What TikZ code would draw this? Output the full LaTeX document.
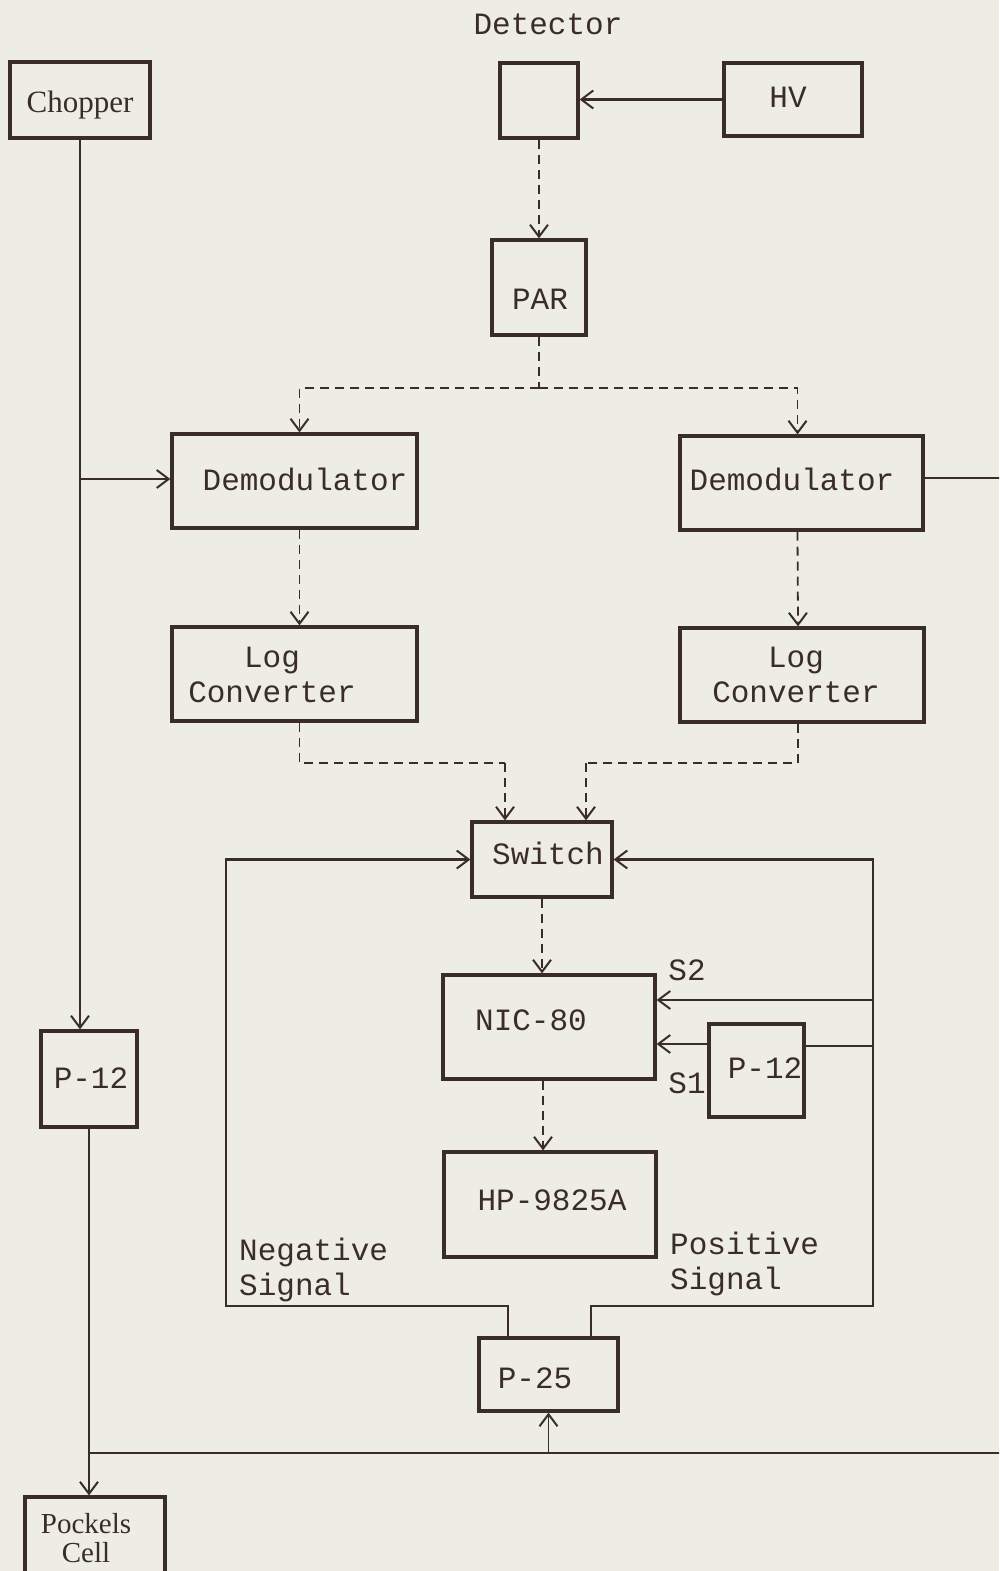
\documentclass[tikz,border=0pt]{standalone}
\usepackage{fontspec}
\newfontfamily\tw{Liberation Mono}
\newfontfamily\sr{Liberation Serif}
\usetikzlibrary{arrows.meta,calc}
\definecolor{ink}{HTML}{3B2C2C}
\definecolor{paper}{HTML}{EDEDE3}
\begin{document}
\begin{tikzpicture}[x=1pt,y=-1pt,
  box/.style={draw=ink,line width=3.2pt,inner sep=0pt},
  txt/.style={text=ink,inner sep=0pt,font=\tw\fontsize{31}{35}\selectfont},
  stxt/.style={text=ink,inner sep=0pt,font=\sr\fontsize{31}{26}\selectfont},
  sig/.style={draw=ink,line width=2.8pt},
  thin/.style={draw=ink,line width=1.9pt},
  dsh/.style={draw=ink,line width=1.8pt,dash pattern=on 9pt off 6pt},
  arr/.style={-{Straight Barb[length=12pt,width=18pt,line width=2pt]}}]
\fill[paper] (0,0) rectangle (999,1571);
\useasboundingbox (0,0) rectangle (999,1571);
\clip (0,0) rectangle (999,1571);
% boxes
\node[box,minimum width=140pt,minimum height=76pt] (chop) at (80,100) {};
\node[box,minimum width=78pt,minimum height=75pt] (det) at (539,100.5) {};
\node[box,minimum width=138pt,minimum height=73pt] (hv) at (793,99.5) {};
\node[box,minimum width=94pt,minimum height=95pt] (par) at (539,287.5) {};
\node[box,minimum width=245pt,minimum height=94pt] (demL) at (294.5,481) {};
\node[box,minimum width=243pt,minimum height=94pt] (demR) at (801.5,483) {};
\node[box,minimum width=245pt,minimum height=94pt] (logL) at (294.5,674) {};
\node[box,minimum width=244pt,minimum height=94pt] (logR) at (802,675) {};
\node[box,minimum width=140pt,minimum height=75pt] (sw) at (542,859.5) {};
\node[box,minimum width=212pt,minimum height=104pt] (nic) at (549,1027) {};
\node[box,minimum width=95pt,minimum height=93pt] (p12r) at (756.5,1070.5) {};
\node[box,minimum width=212pt,minimum height=105pt] (hp) at (550,1204.5) {};
\node[box,minimum width=139pt,minimum height=73pt] (p25) at (548.5,1374.5) {};
\node[box,minimum width=96pt,minimum height=96pt] (p12l) at (89,1079) {};
\node[box,minimum width=140pt,minimum height=90pt] (pock) at (95,1542) {};
% texts
\node[txt] (dett) at (548,24) {Detector};
\node[stxt] (chopt) at (80,105) {Chopper};
\node[txt] (hvt) at (788,97) {HV};
\node[txt] (part) at (540,299) {PAR};
\node[txt] (demLt) at (305,479) {Demodulator};
\node[txt] (demRt) at (792,479) {Demodulator};
\node[txt,align=center] (logLt) at (272,675) {Log\\Converter};
\node[txt,align=center] (logRt) at (796,675) {Log\\Converter};
\node[txt] (swt) at (548,853) {Switch};
\node[txt] (nict) at (531,1020) {NIC-80};
\node[txt] (s2t) at (687,970) {S2};
\node[txt] (s1t) at (687,1083) {S1};
\node[txt] (p12rt) at (765,1068) {P-12};
\node[txt] (hpt) at (552,1200) {HP-9825A};
\node[txt,align=left,anchor=west] (negt) at (239,1270) {Negative\\Signal};
\node[txt,align=left,anchor=west] (post) at (670,1264) {Positive\\Signal};
\node[txt] (p25t) at (535,1378) {P-25};
\node[txt] (p12lt) at (91,1078) {P-12};
\node[stxt,align=center,font=\sr\fontsize{29}{29}\selectfont] (pockt) at (86,1538) {Pockels\\Cell};
% coordinates
\coordinate (split) at (539,388);
\coordinate (rx) at (1010,478);
\coordinate (jl) at (505,763);
\coordinate (jr) at (586,763);
\coordinate (lb) at (226,1306);
\coordinate (rb) at (873,1306);
\coordinate (s2r) at (873,1000);
\coordinate (s1r) at (873,1046);
\coordinate (bl) at (89,1453);
\coordinate (br) at (1010,1453);
% connectors
\draw[sig,arr] (hv.west) -- (hv.west -| det.east);
\draw[dsh,arr] (det.south) -- (par.north);
\draw[dsh] (par.south) -- (split);
\draw[dsh,arr] (split) -| ([xshift=5pt]demL.north);
\draw[dsh,arr] (split) -| ([xshift=-4pt]demR.north);
\draw[thin,arr] (chop.south) -- (chop.south |- p12l.north);
\draw[sig,arr] (chop.south |- demLt) -- (demL.west |- demLt);
\draw[sig] (demR.east |- rx) -- (rx);
\draw[dsh,arr] ([xshift=5pt]demL.south) -- ([xshift=5pt]logL.north);
\draw[dsh,arr] ([xshift=-4pt]demR.south) -- ([xshift=-4pt]logR.north);
\draw[dsh] ([xshift=5pt]logL.south) |- (jl);
\draw[dsh,arr] (jl) -- (jl |- sw.north);
\draw[dsh] ([xshift=-4pt]logR.south) |- (jr);
\draw[dsh,arr] (jr) -- (jr |- sw.north);
\draw[sig,arr] ([xshift=-40.5pt]p25.north) |- (lb) |- (sw.west);
\draw[sig,arr] ([xshift=42.5pt]p25.north) |- (rb) |- (sw.east);
\draw[sig,arr] (s2r) -- (s2r -| nic.east);
\draw[sig] (s1r) -- (s1r -| p12r.east);
\draw[sig,arr] ([yshift=2pt]s1r -| p12r.west) -- ([yshift=2pt]s1r -| nic.east);
\draw[dsh,arr] (sw.south) -- (sw.south |- nic.north);
\draw[dsh,arr] ([xshift=-6pt]nic.south) -- ([xshift=-6pt]nic.south |- hp.north);
\draw[thin,arr] (p12l.south) -- (p12l.south |- pock.north);
\draw[sig] (bl) -- (br);
\draw[thin,arr] (p25.south |- bl) -- (p25.south);
\end{tikzpicture}
\end{document}
